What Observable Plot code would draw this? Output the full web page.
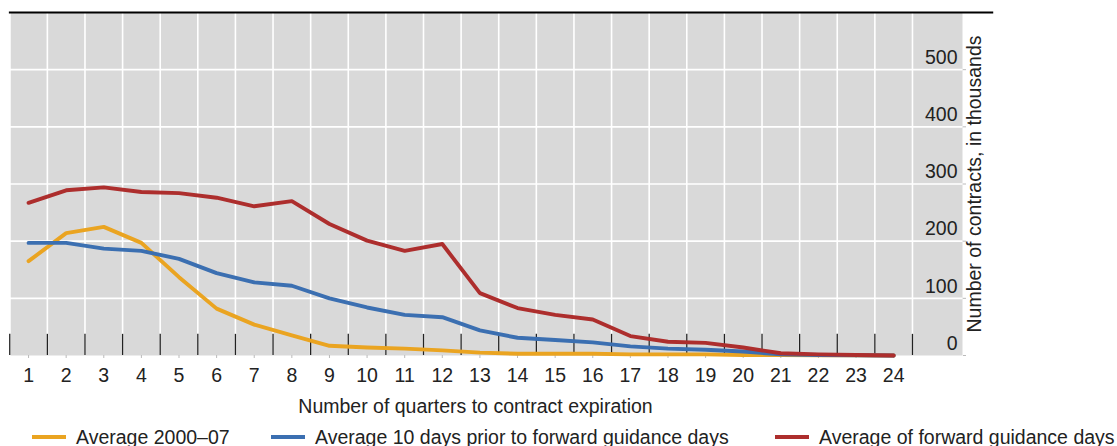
<!DOCTYPE html>
<html>
<head>
<meta charset="utf-8">
<script src="https://cdn.jsdelivr.net/npm/d3@7"></script>
<script src="https://cdn.jsdelivr.net/npm/@observablehq/plot@0.6"></script>
<style>
  html, body { margin: 0; padding: 0; background: #fff; }
  body { width: 1117px; height: 446px; overflow: hidden; font-family: "Liberation Sans", Arial, sans-serif; }
  #chart svg { display: block; }
  #legend { position: relative; height: 28px; font-size: 19.5px; color: #222; }
  .item { position: absolute; top: 5px; height: 28px; display: flex; align-items: center; white-space: nowrap; }
  .sw { width: 34px; height: 4px; margin-right: 10px; }
</style>
</head>
<body>
<div id="chart"></div>
<div id="legend"></div>
<script>
// ---- data ----
const quarters = [1,2,3,4,5,6,7,8,9,10,11,12,13,14,15,16,17,18,19,20,21,22,23,24];
const avg2000_07 = [165,214,225,197,137,82,54,35,17,14,12,9,5,3,3,3,2,2,2,1,1,0.5,0.5,0];
const avgPrior10 = [197,197,187,183,169,144,128,122,100,84,71,67,44,31,27,23,16,12,10,7,2,1,0.5,0];
const avgFG = [267,289,294,286,284,276,261,270,230,201,183,195,109,83,71,63,34,24,22,14,4,2,1,0];
const seriesNames = ["Average 2000\u201307", "Average 10 days prior to forward guidance days", "Average of forward guidance days"];
const seriesColors = ["#eaa421", "#3b6fb1", "#ad2e2d"];
const yTicks = [0,100,200,300,400,500];
const xTitle = "Number of quarters to contract expiration";
const yTitle = "Number of contracts, in thousands";

// ---- build table ----
const seriesValues = [avg2000_07, avgPrior10, avgFG];
const rows = [];
seriesValues.forEach((vals, s) => vals.forEach((v, i) => rows.push({q: quarters[i], v, s: seriesNames[s]})));
const halfTicks = d3.range(0, quarters.length + 1).map(i => i + 0.5);

const xDomain = [0.52, 25.83];
const chart = Plot.plot({
  width: 1117,
  height: 418,
  marginLeft: 10,
  marginRight: 155,
  marginTop: 12,
  marginBottom: 63,
  style: {fontFamily: "'Liberation Sans', Arial, sans-serif", fontSize: "19.5px", color: "#222", background: "#fff"},
  x: {type: "linear", domain: xDomain},
  y: {domain: [0, 600]},
  color: {domain: seriesNames, range: seriesColors},
  marks: [
    Plot.frame({fill: "#d9d9d9", stroke: null}),
    Plot.gridY(yTicks.filter(d => d > 0), {stroke: "#fff", strokeOpacity: 1, strokeWidth: 1.6}),
    Plot.ruleX(halfTicks.filter(d => d < 25), {stroke: "#fff", strokeWidth: 1.6}),
    Plot.ruleX(halfTicks.filter(d => d < 25), {y1: 0, y2: 37, stroke: "#222", strokeWidth: 1.3}),
    Plot.axisX({ticks: quarters, tickSize: 3, tickPadding: 10, stroke: "#bbb", label: null, tickFormat: d => d}),
    Plot.axisY({ticks: yTicks, anchor: "right", tickSize: 3, stroke: "#bbb", tickFormat: () => "", label: null}),
    Plot.text(yTicks, {x: xDomain[1], y: d => d, text: d => String(d), textAnchor: "end", dx: -5, dy: -12, fill: "#222"}),
    Plot.line(rows, {x: "q", y: "v", z: "s", stroke: "s", strokeWidth: 3.9, strokeLinejoin: "round", curve: "linear"}),
    Plot.ruleY([600], {x1: 0.49, x2: 26.66, stroke: "#000", strokeWidth: 2.2}),
    Plot.text([yTitle], {frameAnchor: "right", rotate: -90, dx: 12, fill: "#222", textAnchor: "middle"}),
    Plot.text([xTitle], {frameAnchor: "bottom", dx: -11, dy: 57, fill: "#222"})
  ]
});
document.getElementById("chart").appendChild(chart);

// ---- legend ----
const legendLeft = [32, 271, 775];
const legend = document.getElementById("legend");
seriesNames.forEach((name, i) => {
  const item = document.createElement("div");
  item.className = "item";
  item.style.left = legendLeft[i] + "px";
  const sw = document.createElement("span");
  sw.className = "sw";
  sw.style.background = seriesColors[i];
  const t = document.createElement("span");
  t.textContent = name;
  item.appendChild(sw);
  item.appendChild(t);
  legend.appendChild(item);
});
</script>
</body>
</html>
